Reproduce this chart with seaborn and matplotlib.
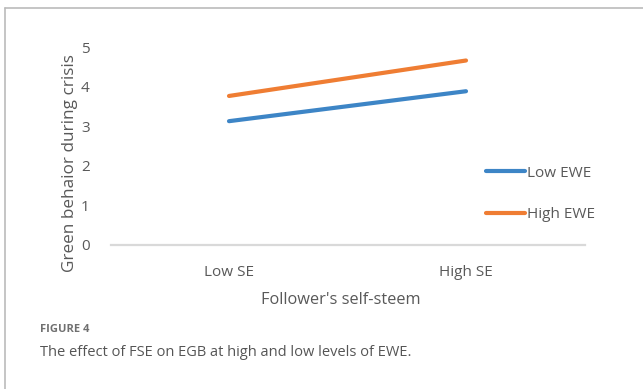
import matplotlib
matplotlib.use("Agg")
import matplotlib.pyplot as plt
from matplotlib.lines import Line2D
import seaborn as sns
import pandas as pd

# Simple slopes: green behaviour by follower self-esteem at two levels of EWE
se_levels = ["Low SE", "High SE"]
low_ewe = [3.13, 3.89]
high_ewe = [3.77, 4.67]
series_names = ["Low EWE", "High EWE"]
y_ticks = [0, 1, 2, 3, 4, 5]

df = pd.DataFrame({
    "SE": se_levels * 2,
    "x": [0, 1, 0, 1],
    "value": low_ewe + high_ewe,
    "EWE": [series_names[0]] * 2 + [series_names[1]] * 2,
})

sns.set_theme(style="white")
plt.rcParams["font.family"] = ["Open Sans", "DejaVu Sans"]

W, H = 643, 389
fig = plt.figure(figsize=(W / 100, H / 100), dpi=100)
fig.patch.set_facecolor("white")

left, right, bottom, top = 110.5, 584.5, 244.5, 47.5
ax = fig.add_axes([left / W, 1 - bottom / H, (right - left) / W, (bottom - top) / H])

palette = {"Low EWE": "#3D85C6", "High EWE": "#EF7D33"}
sns.lineplot(data=df, x="x", y="value", hue="EWE", palette=palette,
             linewidth=3.0, ax=ax, legend=False, solid_capstyle="round")

ax.set_xlim(-0.5, 1.5)
ax.set_ylim(0, 5)
ax.set_xticks([0, 1])
ax.set_xticklabels(se_levels)
ax.set_yticks(y_ticks)
ax.tick_params(axis="both", length=0, labelsize=11, labelcolor="#595959")
ax.tick_params(axis="x", pad=15)
ax.tick_params(axis="y", pad=15)
for s in ["top", "right", "left"]:
    ax.spines[s].set_visible(False)
ax.spines["bottom"].set_color("#D9D9D9")
ax.spines["bottom"].set_linewidth(1.6)
ax.set_facecolor("none")
ax.set_xlabel("Follower's self-steem", fontsize=11.8, color="#595959")
ax.set_ylabel("Green behaior during crisis", fontsize=12.3, color="#595959")
ax.xaxis.set_label_coords(0.485, -0.24)
ax.yaxis.set_label_coords(-0.068, 0.414)

handles = [Line2D([0], [0], color=palette[n], lw=3.0, solid_capstyle="round") for n in series_names]
fig.legend(handles, series_names, loc="upper left",
           bbox_to_anchor=(472 / W, 1 - 152 / H), frameon=False,
           handlelength=2.55, handletextpad=0.15, labelspacing=1.75,
           fontsize=11, labelcolor="#595959")

# frame around the figure panel
fig.add_artist(Line2D([5 / W, 1], [1 - 7.5 / H, 1 - 7.5 / H], color="#BBBBBB", lw=1.2,
                      transform=fig.transFigure))
fig.add_artist(Line2D([5 / W, 5 / W], [0, 1 - 7.5 / H], color="#BBBBBB", lw=1.2,
                      transform=fig.transFigure))

fig.text(40 / W, 1 - 329 / H, "FIGURE 4", fontsize=8, color="#707070",
         fontweight="bold", va="center", ha="left")
fig.text(40 / W, 1 - 352 / H, "The effect of FSE on EGB at high and low levels of EWE.",
         fontsize=10.5, color="#555555", va="center", ha="left")

fig.savefig("out.png", dpi=100, facecolor="white")
